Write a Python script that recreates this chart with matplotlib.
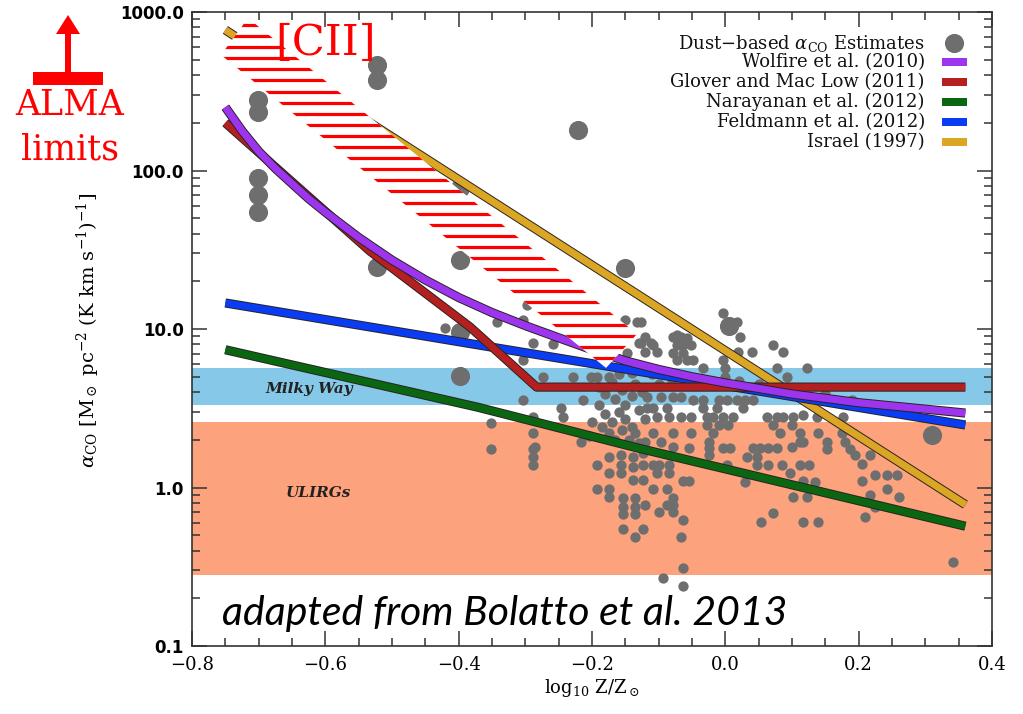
import numpy as np
import matplotlib.pyplot as plt
import matplotlib.patheffects as pe
from matplotlib.patches import Polygon, Rectangle, FancyArrow
from matplotlib.collections import LineCollection
from matplotlib.ticker import FixedLocator, FixedFormatter, MultipleLocator, LogLocator, NullFormatter

plt.rcParams['mathtext.fontset'] = 'dejavuserif'

# ---- model curves (log10 Z/Zsun, alpha_CO) ----
wolfire_x = [-0.75, -0.725, -0.70, -0.675, -0.65, -0.625, -0.60, -0.55, -0.50, -0.45, -0.40,
             -0.35, -0.30, -0.25, -0.20, -0.15, -0.10, -0.05, 0.0, 0.05, 0.10, 0.20, 0.36]
wolfire_y = [251, 178, 132, 103, 82.6, 66.4, 54.6, 37.8, 27.2, 20.4, 15.8,
             12.7, 10.5, 8.8, 7.4, 6.3, 5.56, 5.0, 4.57, 4.22, 3.89, 3.43, 2.95]
glover_x = [-0.75, -0.533, -0.383, -0.283, 0.36]
glover_y = [200, 31, 10.3, 4.3, 4.3]
narayanan_x = [-0.75, -0.37, -0.13, 0.36]
narayanan_y = [7.4, 3.2, 1.77, 0.57]
feldmann_x = [-0.75, -0.368, 0.36]
feldmann_y = [14.6, 7.9, 2.48]
israel_x = [-0.75, 0.36]
israel_y = [770, 0.78]

# ---- [CII] hatched region ----
cii_x = [-0.716, -0.7565, -0.179, -0.1325]
cii_y = [916, 536, 5.68, 9.3]

# ---- bands ----
mw_band = [3.3, 5.7]
ulirg_band = [0.28, 2.6]

# ---- dust-based estimates, large symbols ----
big_x = [-0.701, -0.701, -0.701, -0.701, -0.701, -0.5225, -0.5225, -0.5225, -0.398, -0.398,
         -0.398, -0.398, -0.221, -0.1505, 0.31, 0.005]
big_y = [279, 234, 90, 70, 55, 463, 372, 24.6, 27.2, 78, 9.6, 5.05, 180, 24.3, 2.15, 10.5]

# ---- dust-based estimates, small symbols ----
dust_x = [
    # above the Milky Way band
    -0.342, -0.304, -0.297, -0.288, -0.304, -0.258, -0.4205, -0.150, -0.132, -0.130, -0.147, -0.127,
    -0.112, -0.120, -0.108, -0.120, -0.102, -0.078, -0.067, -0.057, -0.072, -0.063, -0.078, -0.063,
    -0.052, -0.057, -0.072, -0.072, -0.049, -0.004, 0.004, 0.018, 0.010, 0.022, 0.019, 0.040,
    0.072, 0.087, -0.003, -0.034, 0.0, 0.078, 0.123, -0.127,
    # Milky Way band
    -0.273, -0.228, -0.202, -0.192, -0.175, 0.093, 0.0, -0.213, -0.304, -0.19, -0.18, -0.17,
    -0.165, -0.155, -0.15, -0.14, -0.135, -0.16, -0.14, -0.125, -0.19, -0.117, -0.097, -0.078,
    -0.067, -0.049, -0.034, -0.010, 0.003, 0.018, 0.030, 0.042, 0.150, 0.190, -0.10, -0.08,
    -0.05, -0.03, 0.02, 0.05, -0.11,
    # 2 - 3.3
    -0.247, -0.243, -0.288, -0.352, -0.18, -0.17, -0.16, -0.15, -0.14, -0.13, -0.185, -0.175,
    -0.165, -0.155, -0.145, -0.135, -0.13, -0.2, -0.205, -0.12, -0.288, -0.117, -0.108, -0.087,
    -0.034, -0.012, 0.027, -0.102, -0.085, -0.067, -0.052, -0.027, -0.018, -0.003, 0.012, 0.063,
    0.078, 0.087, 0.102, -0.027, -0.010, 0.004, 0.072, 0.100, -0.078, -0.052, -0.019, -0.108,
    0.082, 0.117, 0.138, 0.177, 0.112, 0.139, 0.175,
    # 1 - 2
    -0.285, -0.352, -0.288, -0.288, -0.288, -0.192, -0.175, -0.175, -0.157, -0.157, -0.157, -0.138,
    -0.138, -0.138, -0.217, -0.097, -0.120, -0.123, -0.123, -0.123, -0.108, -0.100, -0.085, -0.102,
    -0.085, -0.063, -0.055, -0.078, -0.055, -0.025, -0.025, -0.025, -0.003, 0.007, 0.042, 0.052,
    0.064, 0.078, 0.033, 0.048, 0.048, 0.064, 0.085, 0.112, 0.125, 0.100, 0.112, 0.097,
    0.030, 0.003, 0.117, 0.135, 0.117, 0.153, 0.153, 0.180, 0.187, 0.195, 0.205, 0.217,
    0.225, 0.243, 0.258, 0.205,
    # below 1
    -0.192, -0.175, -0.175, -0.154, -0.154, -0.154, -0.135, -0.135, -0.135, -0.154, -0.136, -0.109,
    -0.087, -0.079, -0.087, -0.120, -0.078, -0.100, -0.079, -0.064, -0.123, -0.067, -0.063, -0.094,
    -0.063, 0.102, 0.123, 0.072, 0.054, 0.117, 0.139, 0.217, 0.243, 0.225, 0.26, 0.21, 0.342,
]
dust_y = [
    11.0, 11.4, 14.2, 8.2, 6.4, 8.0, 10.1, 11.4, 11.1, 8.2, 7.1, 8.2,
    8.2, 8.9, 7.9, 7.2, 7.2, 8.9, 8.9, 8.8, 7.9, 7.9, 7.1, 7.1,
    7.9, 6.4, 6.4, 9.2, 6.4, 12.6, 11.1, 11.1, 10.3, 8.9, 7.2, 7.2,
    7.9, 7.2, 6.4, 5.7, 5.7, 5.7, 5.7, 11.1,
    5.0, 5.0, 5.0, 5.0, 5.0, 5.0, 5.0, 3.56, 3.56, 4.3, 3.9, 4.6,
    3.6, 4.1, 3.3, 3.8, 4.5, 5.2, 5.3, 4.0, 3.3, 3.72, 3.72, 3.72,
    3.72, 3.56, 3.56, 3.56, 3.56, 3.56, 3.56, 3.56, 3.95, 3.56, 4.5, 4.8,
    4.7, 4.5, 4.7, 4.5, 5.2,
    3.17, 2.79, 2.79, 2.55, 2.9, 2.6, 3.0, 2.7, 2.4, 3.1, 2.4, 2.2,
    2.0, 2.3, 2.0, 2.2, 1.9, 2.6, 2.1, 2.7, 2.2, 3.17, 3.17, 3.17,
    3.17, 3.17, 3.17, 2.79, 2.79, 2.79, 2.79, 2.79, 2.79, 2.79, 2.79, 2.79,
    2.79, 2.79, 2.79, 2.48, 2.48, 2.48, 2.48, 2.48, 2.21, 2.21, 2.21, 2.21,
    2.21, 2.87, 2.79, 2.79, 2.21, 2.21, 2.21,
    1.8, 1.75, 1.75, 1.56, 1.39, 1.39, 1.56, 1.23, 1.60, 1.39, 1.23, 1.56,
    1.35, 1.11, 1.94, 1.94, 1.94, 1.65, 1.39, 1.11, 1.39, 1.39, 1.39, 1.23,
    1.23, 1.10, 1.10, 1.80, 1.77, 1.94, 1.77, 1.60, 1.77, 1.77, 1.77, 1.77,
    1.77, 1.77, 1.56, 1.56, 1.39, 1.39, 1.39, 1.39, 1.39, 1.80, 1.94, 1.23,
    1.08, 1.39, 1.10, 1.08, 1.94, 1.94, 1.75, 1.94, 1.75, 1.6, 1.4, 1.6,
    1.2, 1.2, 1.2, 1.1,
    0.98, 0.98, 0.87, 0.86, 0.75, 0.68, 0.86, 0.75, 0.68, 0.55, 0.49, 0.98,
    0.98, 0.86, 0.78, 0.78, 0.78, 0.70, 0.70, 0.62, 0.55, 0.49, 0.31, 0.27,
    0.24, 0.87, 0.87, 0.69, 0.61, 0.61, 0.61, 0.9, 0.98, 0.75, 0.87, 0.65, 0.34,
]

yticks = [0.1, 1, 10, 100, 1000]
ytick_labels = ['0.1', '1.0', '10.0', '100.0', '1000.0']
xticks = [-0.8, -0.6, -0.4, -0.2, 0.0, 0.2, 0.4]
xtick_labels = ['\u22120.8', '\u22120.6', '\u22120.4', '\u22120.2', '0.0', '0.2', '0.4']

legend_labels = [r'Dust$-$based $\alpha_{\rm CO}$ Estimates', 'Wolfire et al. (2010)',
                 'Glover and Mac Low (2011)', 'Narayanan et al. (2012)',
                 'Feldmann et al. (2012)', 'Israel (1997)']
c_purple = '#9d35ef'
c_red = '#b3201f'
c_green = '#0b6612'
c_blue = '#0a3cf4'
c_gold = '#dba624'
c_dots = '#6e6e6e'

fig = plt.figure(figsize=(10.23, 7.14), dpi=100)
ax = fig.add_axes([0.1877, 0.0952, 0.7820, 0.8880])
ax.set_yscale('log')
ax.set_xlim(-0.8, 0.4)
ax.set_ylim(0.1, 1000)

ax.axhspan(mw_band[0], mw_band[1], color='#86c8e7', lw=0, zorder=0)
ax.axhspan(ulirg_band[0], ulirg_band[1], color='#fca27c', lw=0, zorder=0)
ax.text(-0.69, 4.2, 'Milky Way', style='italic', weight='bold', family='DejaVu Serif',
        fontsize=11, va='center', color='#222222', zorder=1)
ax.text(-0.66, 0.92, 'ULIRGs', style='italic', weight='bold', family='DejaVu Serif',
        fontsize=11, va='center', color='#222222', zorder=1)

ax.scatter(dust_x, dust_y, s=55, c=c_dots, lw=0, zorder=2)
ax.scatter(big_x, big_y, s=190, c=c_dots, lw=0, zorder=2)


def model_line(x, y, color, z):
    ax.plot(x, y, color=color, lw=5.2, solid_capstyle='butt', solid_joinstyle='round', zorder=z,
            path_effects=[pe.Stroke(linewidth=6.6, foreground='#2a2222'), pe.Normal()])


model_line(israel_x, israel_y, c_gold, 3)
model_line(narayanan_x, narayanan_y, c_green, 3.1)
model_line(feldmann_x, feldmann_y, c_blue, 3.2)
model_line(glover_x, glover_y, c_red, 3.3)
model_line(wolfire_x, wolfire_y, c_purple, 3.4)

# [CII] region: white polygon with red horizontal hatching
poly = Polygon(list(zip(cii_x, cii_y)), closed=True, fc='white', ec='none', zorder=5)
ax.add_patch(poly)
hy = np.arange(0.9795, 0.3, -0.0175)
segs = [[(0, v), (1, v)] for v in hy]
lc = LineCollection(segs, colors='red', linewidths=2.3, transform=ax.transAxes, zorder=6)
lc.set_clip_path(poly)
ax.add_collection(lc)
ax.text(0.104, 0.932, '[CII]', transform=ax.transAxes, color='red', fontsize=31,
        family='DejaVu Serif', va='baseline', zorder=7)

# legend, text right aligned with symbols on the right
rows = [0.951, 0.921, 0.890, 0.858, 0.826, 0.795]
for lab, yy in zip(legend_labels, rows):
    ax.text(0.916, yy, lab, transform=ax.transAxes, ha='right', va='center',
            family='DejaVu Serif', fontsize=13, color='#111111', zorder=8)
ax.scatter([0.9525], [rows[0]], s=190, c=c_dots, lw=0, transform=ax.transAxes, zorder=8)
for col, yy in zip([c_purple, c_red, c_green, c_blue, c_gold], rows[1:]):
    ax.add_patch(Rectangle((0.9375, yy - 0.0063), 0.031, 0.0126, transform=ax.transAxes,
                           color=col, lw=0, zorder=8))

ax.text(0.0375, 0.033, 'adapted from Bolatto et al. 2013', transform=ax.transAxes,
        family='Lato', style='italic', fontsize=29.5, va='baseline', color='black', zorder=8)

# axes styling
ax.set_xticks(xticks)
ax.set_xticklabels(xtick_labels)
ax.xaxis.set_minor_locator(MultipleLocator(0.05))
ax.yaxis.set_major_locator(FixedLocator(yticks))
ax.yaxis.set_major_formatter(FixedFormatter(ytick_labels))
ax.yaxis.set_minor_locator(LogLocator(base=10, subs=np.arange(2, 10)))
ax.yaxis.set_minor_formatter(NullFormatter())
ax.tick_params(which='both', direction='in', top=True, right=True, color='#333333')
ax.tick_params(which='major', length=11, width=1.1)
ax.tick_params(which='minor', length=5.5, width=1.1)
ax.tick_params(axis='x', pad=7, labelsize=13)
ax.tick_params(axis='y', pad=6)
for t in ax.get_xticklabels():
    t.set_family('DejaVu Serif')
for t in ax.get_yticklabels():
    t.set_fontsize(12)
    t.set_weight('bold')
for s in ax.spines.values():
    s.set_linewidth(1.2)
    s.set_color('#333333')

ax.set_xlabel(r'log$_{10}$ Z/Z$_\odot$', family='DejaVu Serif', fontsize=13, labelpad=2)
ax.set_ylabel(r'$\alpha_{\rm CO}$ [M$_\odot$ pc$^{-2}$ (K km s$^{-1}$)$^{-1}$]',
              family='DejaVu Serif', fontsize=14)
ax.yaxis.set_label_coords(-0.112, 0.497)

# ALMA limits marker outside the axes
fig.add_artist(Rectangle((33 / 1023, 1 - 85 / 714), 70 / 1023, 13 / 714,
                         transform=fig.transFigure, color='red', lw=0))
fig.add_artist(FancyArrow(68 / 1023, 1 - 73 / 714, 0, 58 / 714, width=6 / 1023,
                          head_width=24 / 1023, head_length=19 / 714, length_includes_head=True,
                          transform=fig.transFigure, color='red', lw=0))
fig.text(70 / 1023, 1 - 115 / 714, 'ALMA', ha='center', va='baseline', color='red',
         fontsize=25, family='DejaVu Serif')
fig.text(70 / 1023, 1 - 160 / 714, 'limits', ha='center', va='baseline', color='red',
         fontsize=25, family='DejaVu Serif')

fig.savefig('out.png', dpi=100)
